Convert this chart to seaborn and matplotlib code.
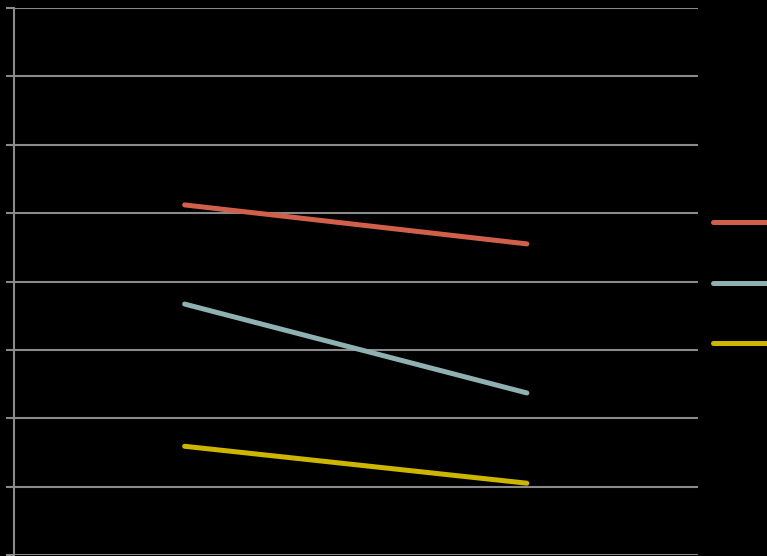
import matplotlib
matplotlib.use("Agg")
import matplotlib.pyplot as plt
import seaborn as sns
import pandas as pd

categories = ["Period 1", "Period 2"]
series_names = ["Series 1", "Series 2", "Series 3"]
series1 = [5.12, 4.55]
series2 = [3.67, 2.37]
series3 = [1.59, 1.05]
colors = ["#D0604A", "#8FB1B1", "#CDB500"]

rows = []
for name, vals in zip(series_names, [series1, series2, series3]):
    for c, v in zip(categories, vals):
        rows.append({"category": c, "value": v, "series": name})
df = pd.DataFrame(rows)

sns.set_theme(style="dark")
W, H = 767, 556
fig = plt.figure(figsize=(W / 100, H / 100), dpi=100, facecolor="black")
ax = fig.add_axes([13.5 / W, 1 / H, (698 - 13.5) / W, (555 - 8) / H])
ax.set_facecolor("black")

sns.lineplot(data=df, x="category", y="value", hue="series", palette=colors,
             linewidth=3.6, ax=ax, sort=False, legend=True,
             solid_capstyle="round")

ax.set_xlim(-0.5, 1.5)
ax.set_ylim(0, 8)
ax.set_yticks(range(0, 9))
ax.yaxis.grid(True, color="#8a8a8a", linewidth=1.5)
ax.xaxis.grid(False)
ax.set_axisbelow(True)
ax.tick_params(axis="y", left=True, length=6, width=1.5, color="#8a8a8a",
               labelleft=False)
ax.tick_params(axis="x", bottom=False, labelbottom=False)
ax.set_xlabel("")
ax.set_ylabel("")
for s in ["top", "right", "bottom"]:
    ax.spines[s].set_visible(False)
ax.spines["left"].set_color("#8a8a8a")
ax.spines["left"].set_linewidth(1.5)

handles, labels = ax.get_legend_handles_labels()
ax.legend_.remove()
# legend labels fall outside the visible canvas in the reference
leg = fig.legend(handles, ["" for _ in labels], loc="upper left",
                 bbox_to_anchor=(713 / W, 1 - 216 / H),
                 frameon=False, fontsize=10, handlelength=4,
                 labelspacing=3.35, borderpad=0, borderaxespad=0,
                 handletextpad=1.0)
for h in leg.get_lines():
    h.set_linewidth(3.6)
    h.set_solid_capstyle("round")

fig.savefig("out.png", dpi=100, facecolor="black")
